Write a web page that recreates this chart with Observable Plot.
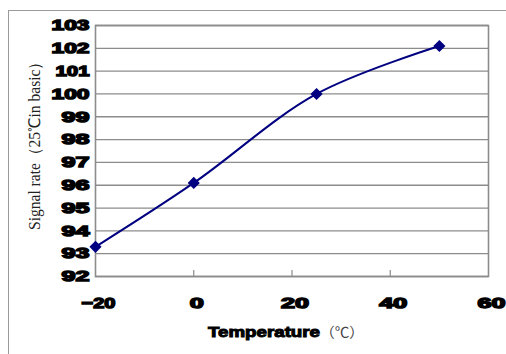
<!DOCTYPE html>
<html>
<head>
<meta charset="utf-8">
<script src="https://cdn.jsdelivr.net/npm/d3@7"></script>
<script src="https://cdn.jsdelivr.net/npm/@observablehq/plot@0.6"></script>
<style>
  html, body { margin: 0; padding: 0; background: #fff; }
  #wrap { position: relative; width: 506px; height: 354px; overflow: hidden; }
  #edge { position: absolute; left: 8px; top: 10px; width: 600px; height: 400px;
          border-left: 1.5px solid #9a9a9a; border-top: 1.5px solid #9a9a9a; pointer-events: none; }
</style>
</head>
<body>
<div id="wrap"><div id="edge"></div></div>
<script>
// Signal rate relative to 25 °C at each test temperature
const temperature = [-20, 0, 25, 50];
const signalRate = [93.3, 96.1, 100.0, 102.1];

// Axis ticks
const xTicks = [-20, 0, 20, 40, 60];
const xMinorTicks = [0, 20, 40];
const yTicks = [92, 93, 94, 95, 96, 97, 98, 99, 100, 101, 102, 103];

const yTitle = "Signal rate（25℃in basic）";
const xTitleMain = "Temperature";
const xTitleUnit = "（℃）";

const data = temperature.map((t, i) => ({t, v: signalRate[i]}));

const grey = "#8c8c8c";
const navy = "#000080";

const chart = Plot.plot({
  width: 506,
  height: 354,
  marginLeft: 95,
  marginRight: 18,
  marginTop: 25,
  marginBottom: 78,
  x: {domain: [-20, 60], label: null},
  y: {domain: [92, 103], label: null},
  marks: [
    Plot.ruleY(yTicks, {stroke: grey, strokeWidth: 1.3}),
    Plot.frame({stroke: grey, strokeWidth: 1.6}),
    Plot.ruleX(xMinorTicks, {stroke: grey, strokeWidth: 1.2, insetTop: 245}),
    Plot.axisY(yTicks, {tickSize: 0, tickPadding: 6, fontSize: 15, fontWeight: "bold"}),
    Plot.axisX(xTicks, {tickSize: 0, tickPadding: 21, fontSize: 15, fontWeight: "bold", dx: 3}),
    Plot.line(data, {x: "t", y: "v", curve: "catmull-rom", stroke: navy, strokeWidth: 2}),
    Plot.dot(data, {x: "t", y: "v", symbol: "square", rotate: 45, r: 4, fill: navy, stroke: navy})
  ]
});

document.getElementById("wrap").appendChild(chart);

const svg = d3.select(chart);
svg.style("position", "absolute").style("left", 0).style("top", 0).style("background", "transparent");

// Heavy, wide-set numerals on both axes
const charWidth = c => c === "1" ? 10 : c === "-" || c === "−" ? 6 : 14;
svg.selectAll('g[aria-label$="tick label"] text')
  .attr("font-family", "'Liberation Sans', Arial, sans-serif")
  .attr("fill", "#000")
  .attr("stroke", "#000")
  .attr("stroke-width", 1.4)
  .each(function () {
    const s = this.textContent;
    const w = Array.from(s).reduce((a, c) => a + charWidth(c), 0);
    d3.select(this).attr("textLength", w).attr("lengthAdjust", "spacingAndGlyphs");
  });

// Y axis title
svg.append("text")
  .attr("transform", "translate(40,142) rotate(-90)")
  .attr("text-anchor", "middle")
  .attr("font-family", "'Liberation Serif', 'Times New Roman', serif")
  .attr("font-size", 16)
  .attr("fill", "#222")
  .attr("textLength", 176).attr("lengthAdjust", "spacingAndGlyphs")
  .text(yTitle);

// X axis title
svg.append("text")
  .attr("x", 208).attr("y", 337)
  .attr("text-anchor", "start")
  .attr("font-family", "'Liberation Sans', Arial, sans-serif")
  .attr("font-size", 15)
  .attr("font-weight", "bold")
  .attr("stroke", "#000").attr("stroke-width", 1)
  .attr("textLength", 112).attr("lengthAdjust", "spacingAndGlyphs")
  .text(xTitleMain);
svg.append("text")
  .attr("x", 320).attr("y", 337)
  .attr("text-anchor", "start")
  .attr("font-family", "'Noto Sans CJK SC', sans-serif")
  .attr("font-size", 14)
  .attr("fill", "#444")
  .attr("textLength", 44).attr("lengthAdjust", "spacingAndGlyphs")
  .text(xTitleUnit);
</script>
</body>
</html>
